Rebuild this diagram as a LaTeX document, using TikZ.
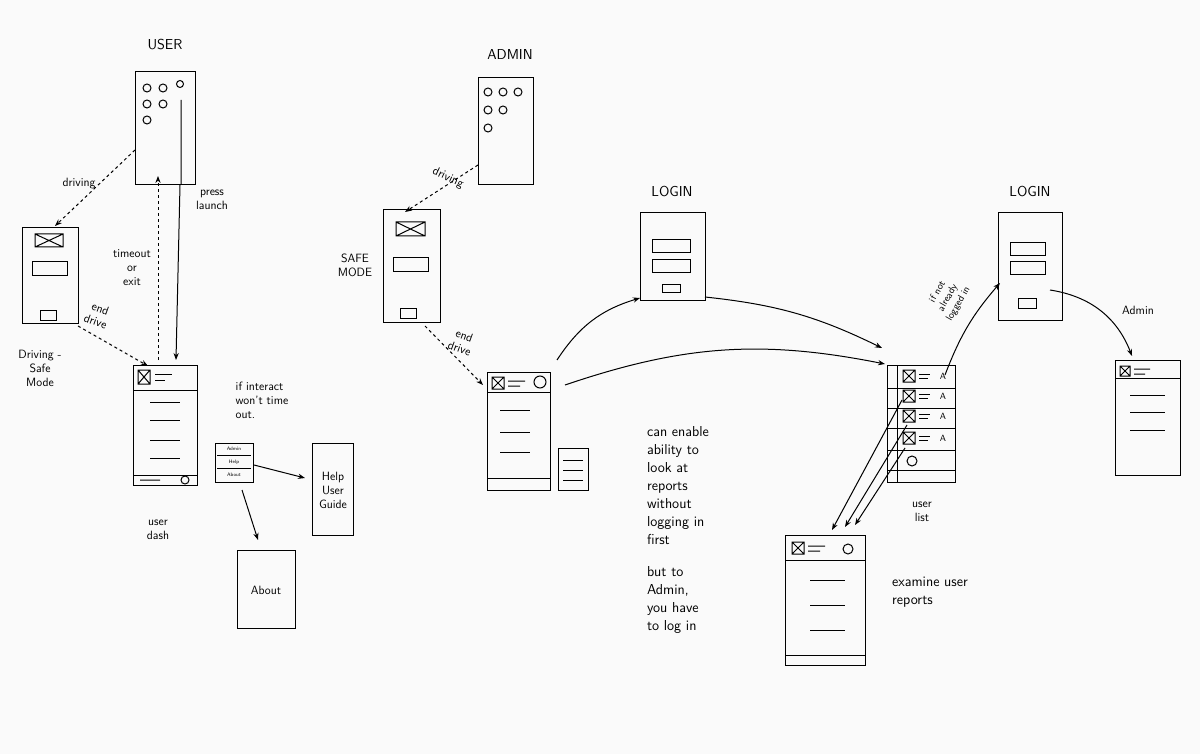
\documentclass[tikz,border=0pt]{standalone}
\usetikzlibrary{arrows.meta}
\begin{document}
\begin{tikzpicture}[x=1pt,y=-1pt,line width=1pt,
 lab/.style={font=\sffamily\large,align=center,inner sep=1pt},
 arr/.style={-{Stealth[length=7pt]}},
 darr/.style={-{Stealth[length=7pt]},dashed}]
\fill[white!96!gray] (0,0) rectangle (1200,754);
\useasboundingbox (0,0) rectangle (1200,754);
% USER home
\node[lab,font=\sffamily\Large] (tuser) at (165,45) {USER};
\draw (135,72) rectangle (195,185);
\foreach \p in {(147,88),(163,88),(147,104),(163,104),(147,120)} \draw \p circle (4);
\draw (180,84) circle (3.5) (181,100)--(181,185);
% driving safe mode
\draw (22,228) rectangle (78,323);
\draw (35,234) rectangle (63,247) (35,234)--(63,247) (35,247)--(63,234);
\draw (32,262) rectangle (67,276) (40,310) rectangle (56,320);
\node[lab] at (40,368) {Driving -\\Safe\\Mode};
\coordinate (ds) at (55,226);
\coordinate (uhl) at (135,150);
\draw[darr] (uhl) -- (ds) node[lab,midway,above left=-2pt] {driving};
% user dash
\draw (133,365) rectangle (197,485) (133,390)--(197,390) (133,475)--(197,475);
\draw (138,370) rectangle (150,384) (138,370)--(150,384) (138,384)--(150,370);
\draw (155,374)--(172,374) (155,380)--(165,380);
\foreach \y in {402,420,440,458} \draw (150,\y)--(180,\y);
\draw (185,480) circle (4) (140,480)--(160,480);
\node[lab] at (158,530) {user\\dash};
\coordinate (lu) at (180,185); \coordinate (ld) at (176,360);
\draw[arr] (lu) -- (ld);
\node[lab] at (212,200) {press\\launch};
\coordinate (tu) at (158,360); \coordinate (tt) at (158,176);
\draw[darr] (tu) -- (tt);
\node[lab] at (132,268) {timeout\\or\\exit};
\coordinate (ed1) at (78,326); \coordinate (ed2) at (148,366);
\draw[darr] (ed1) -- (ed2);
\node[lab,rotate=-20] at (98,315) {end\\drive};
\node[lab,align=left] at (262,400) {if interact\\won't time\\out.};
% menu
\draw (215,443) rectangle (253,482);
\node[font=\sffamily\tiny,inner sep=0] at (234,449) {Admin};
\node[font=\sffamily\tiny,inner sep=0] at (234,462) {Help};
\node[font=\sffamily\tiny,inner sep=0] at (234,475) {About};
\draw (217,455)--(251,455) (217,468)--(251,468);
\draw (312,443) rectangle (353,535);
\node[lab] at (333,490) {Help\\User\\Guide};
\draw (237,550) rectangle (295,628);
\node[lab] at (266,590) {About};
\coordinate (m1) at (254,465); \coordinate (m2) at (305,478);
\draw[arr] (m1)--(m2);
\coordinate (m3) at (242,490); \coordinate (m4) at (258,540);
\draw[arr] (m3)--(m4);
% ADMIN
\node[lab,font=\sffamily\Large] at (510,55) {ADMIN};
\draw (478,78) rectangle (533,185);
\foreach \p in {(488,92),(503,92),(518,92),(488,110),(503,110),(488,128)} \draw \p circle (4);
\coordinate (ad1) at (478,165); \coordinate (ad2) at (405,212);
\draw[darr] (ad1)--(ad2);
\node[lab,rotate=-25] at (448,178) {driving};
\node[lab] at (355,265) {SAFE\\MODE};
\draw (383,210) rectangle (440,322);
\draw (396,222) rectangle (425,236) (396,222)--(425,236) (396,236)--(425,222);
\draw (393,258) rectangle (428,272) (400,308) rectangle (416,318);
\coordinate (ae1) at (425,326); \coordinate (ae2) at (483,385);
\draw[darr] (ae1)--(ae2);
\node[lab,rotate=-20] at (462,342) {end\\drive};
% admin dash
\draw (487,372) rectangle (550,490) (487,392)--(550,392) (487,478)--(550,478);
\draw (492,377) rectangle (504,389) (492,377)--(504,389) (492,389)--(504,377);
\draw (508,381)--(525,381) (508,386)--(520,386) (540,382) circle (6);
\foreach \y in {410,432,452} \draw (500,\y)--(530,\y);
\draw (558,448) rectangle (588,490) (563,460)--(583,460) (563,470)--(583,470) (563,480)--(583,480);
% login 1
\node[lab,font=\sffamily\Large] at (672,192) {LOGIN};
\draw (640,213) rectangle (705,300);
\draw (652,240) rectangle (690,253) (652,260) rectangle (690,273) (662,285) rectangle (680,293);
\coordinate (a1) at (557,360); \coordinate (a2) at (640,298);
\draw[arr] (a1) to[bend left=20] (a2);
\coordinate (l1) at (705,297); \coordinate (l2) at (882,348);
\draw[arr] (l1) to[bend left=10] (l2);
\coordinate (a3) at (565,385); \coordinate (a4) at (885,364);
\draw[arr] (a3) to[bend left=15] (a4);
\node[lab,align=left,font=\sffamily\Large] at (678,530) {can enable\\ability to\\look at\\reports\\without\\logging in\\first\\[14pt]but to\\Admin,\\you have\\to log in};
% user list
\draw (887,365) rectangle (955,482) (897,365)--(897,482);
\foreach \y in {388,408,428,450,470} \draw (887,\y)--(955,\y);
\foreach \y in {370,390,410,432} {\draw (903,\y) rectangle (915,\y+12) (903,\y)--(915,\y+12) (903,\y+12)--(915,\y);
 \draw (919,\y+4)--(930,\y+4) (919,\y+8)--(928,\y+8); \node[font=\sffamily\small,inner sep=0] at (943,\y+6) {A};}
\draw (912,461) circle (5);
\node[lab] at (922,512) {user\\list};
% login 2
\node[lab,font=\sffamily\Large] at (1030,192) {LOGIN};
\draw (998,213) rectangle (1062,320);
\draw (1010,243) rectangle (1045,256) (1010,262) rectangle (1045,275) (1018,298) rectangle (1036,308);
\coordinate (u1) at (945,375); \coordinate (u2) at (1000,283);
\draw[arr] (u1) to[bend left=10] (u2);
\node[lab,rotate=60,font=\sffamily\normalsize,inner sep=0pt] at (948,298) {if not\\already\\logged in};
\coordinate (g1) at (1050,290); \coordinate (g2) at (1132,356);
\draw[arr] (g1) to[bend left=30] (g2);
\node[lab] at (1138,310) {Admin};
\draw (1115,360) rectangle (1180,475) (1115,378)--(1180,378);
\draw (1120,366) rectangle (1130,376) (1120,366)--(1130,376) (1120,376)--(1130,366) (1134,369)--(1150,369) (1134,374)--(1145,374);
\foreach \y in {395,412,430} \draw (1130,\y)--(1165,\y);
% examine
\draw (785,535) rectangle (865,665) (785,560)--(865,560) (785,655)--(865,655);
\draw (792,542) rectangle (804,554) (792,542)--(804,554) (792,554)--(804,542) (808,546)--(825,546) (808,551)--(820,551) (848,549) circle (5);
\foreach \y in {580,605,630} \draw (810,\y)--(845,\y);
\node[lab,align=left,font=\sffamily\Large] at (930,592) {examine user\\reports};
\coordinate (x1) at (902,400); \coordinate (x2) at (832,530);
\coordinate (x3) at (907,425); \coordinate (x4) at (845,527);
\draw[arr] (x1)--(x2); \draw[arr] (x3)--(x4);
\coordinate (x5) at (905,448); \coordinate (x6) at (855,525);
\draw[arr] (x5)--(x6);
\end{tikzpicture}
\end{document}
